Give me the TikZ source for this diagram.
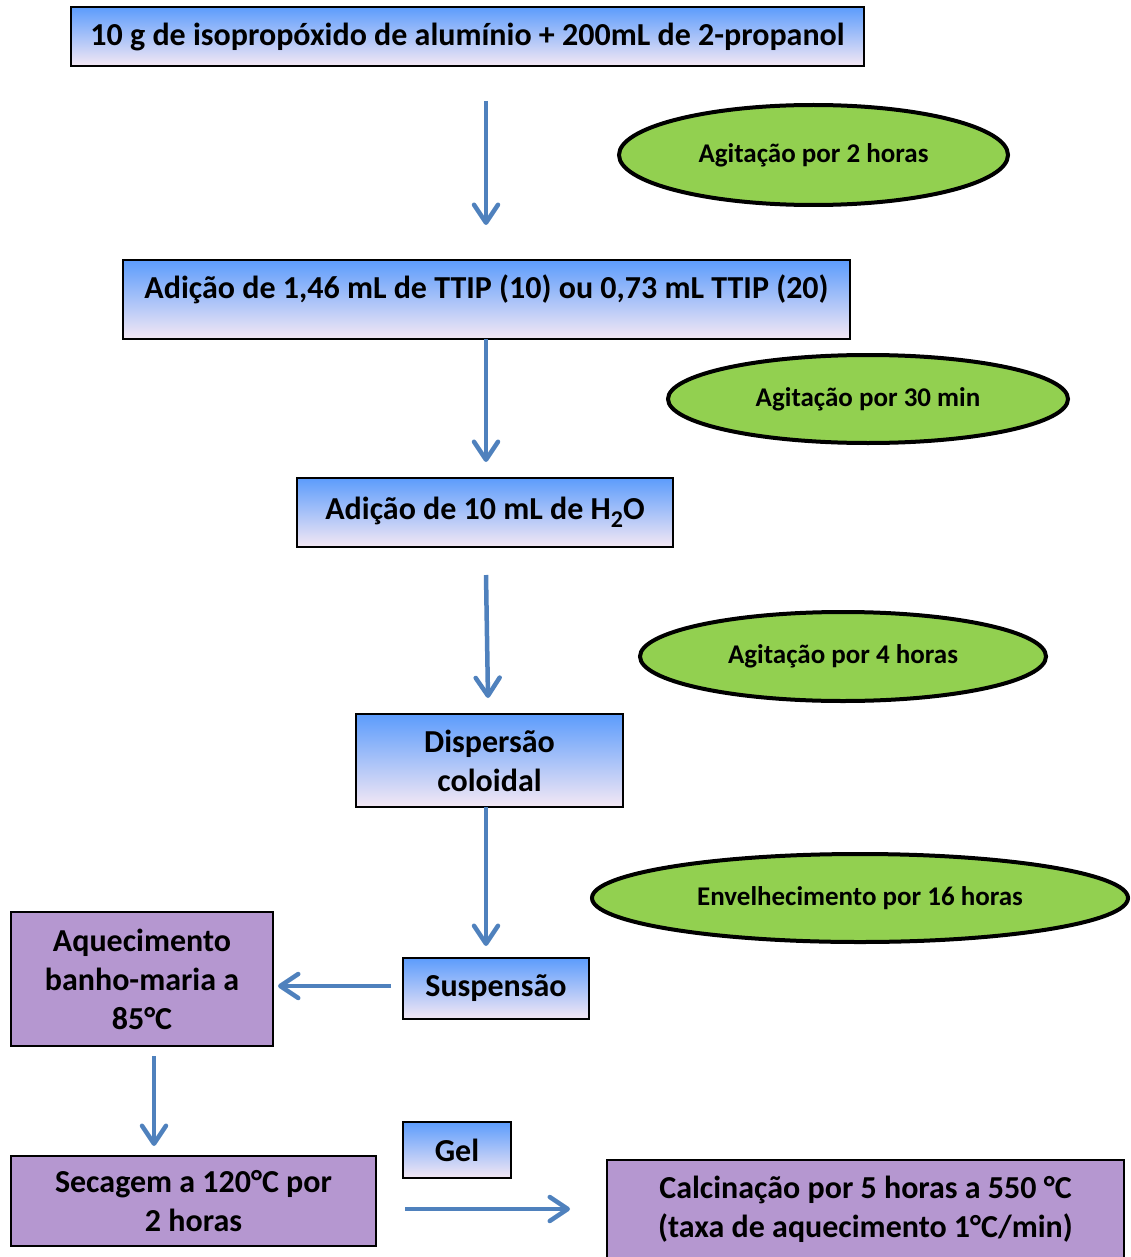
\documentclass[tikz,border=0pt]{standalone}
\usepackage{fontspec}
\setmainfont{Carlito}
\usetikzlibrary{shapes.geometric,arrows.meta}
\definecolor{flowblue}{RGB}{79,129,189}
\definecolor{boxtop}{RGB}{92,156,252}
\definecolor{boxbot}{RGB}{244,232,244}
\definecolor{leaf}{RGB}{146,208,80}
\definecolor{lilac}{RGB}{181,151,208}
\tikzset{
  stepbox/.style={draw=black, line width=1.3pt, rectangle, inner sep=0pt,
    top color=boxtop, bottom color=boxbot, align=center,
    font=\bfseries\fontsize{32}{39}\selectfont},
  heatbox/.style={draw=black, line width=1.3pt, rectangle, inner sep=0pt,
    fill=lilac, align=center, font=\bfseries\fontsize{32}{39}\selectfont},
  stirring/.style={draw=black, line width=4pt, ellipse, inner sep=0pt,
    fill=leaf, font=\bfseries\fontsize{27}{30}\selectfont},
  flow/.style={draw=flowblue, line width=4.5pt,
    -{Straight Barb[length=18pt,width=24pt,line width=4.5pt,round]}}
}
\begin{document}
\begin{tikzpicture}[x=1pt,y=-1pt]
\useasboundingbox (0,0) rectangle (1131,1257);

% process steps
\node[stepbox, minimum width=793pt, minimum height=59pt] (mix) at (467.5,36.5)
  {10 g de isopropóxido de alumínio + 200mL de 2-propanol};
\node[stepbox, minimum width=727pt, minimum height=79pt, text depth=26pt] (ttip) at (486.5,299.5)
  {Adição de 1,46 mL de TTIP (10) ou 0,73 mL TTIP (20)};
\node[stepbox, minimum width=376pt, minimum height=69pt] (water) at (485,512.5)
  {Adição de 10 mL de H\raisebox{-8pt}{\fontsize{24}{24}\selectfont 2}O};
\node[stepbox, minimum width=267pt, minimum height=93pt] (disp) at (489.5,760.5)
  {Dispersão\\coloidal};
\node[stepbox, minimum width=186pt, minimum height=61pt] (susp) at (496,988.5)
  {Suspensão};
\node[stepbox, minimum width=108pt, minimum height=56pt] (gel) at (457,1150)
  {Gel};

% thermal treatments
\node[heatbox, minimum width=262pt, minimum height=134pt] (bath) at (142,979)
  {Aquecimento\\banho-maria a\\85°C};
\node[heatbox, minimum width=365pt, minimum height=90pt] (dry) at (193.5,1201)
  {Secagem a 120°C por\\2 horas};
\node[heatbox, minimum width=517pt, minimum height=98pt] (calc) at (865.5,1209)
  {Calcinação por 5 horas a 550 °C\\(taxa de aquecimento 1°C/min)};

% stirring / ageing times
\node[stirring, minimum width=389pt, minimum height=100pt] (st1) at (813.5,155)
  {Agitação por 2 horas};
\node[stirring, minimum width=400pt, minimum height=88pt] (st2) at (868,399)
  {Agitação por 30 min};
\node[stirring, minimum width=406pt, minimum height=89pt] (st3) at (843,656.5)
  {Agitação por 4 horas};
\node[stirring, minimum width=536pt, minimum height=88pt] (st4) at (860,898)
  {Envelhecimento por 16 horas};

% arrow end points
\coordinate (a1s) at (486,101);  \coordinate (a1e) at (486,225);
\coordinate (a2s) at (486,339);  \coordinate (a2e) at (486,462);
\coordinate (a3s) at (486,575);  \coordinate (a3e) at (488,698);
\coordinate (a4s) at (486,807);  \coordinate (a4e) at (486,946);
\coordinate (a5s) at (391,986);  \coordinate (a5e) at (278,986);
\coordinate (a6s) at (154,1056); \coordinate (a6e) at (154,1146);
\coordinate (a7s) at (405,1209); \coordinate (a7e) at (570,1209);

\draw[flow] (a1s) -- (a1e);
\draw[flow] (a2s) -- (a2e);
\draw[flow] (a3s) -- (a3e);
\draw[flow] (a4s) -- (a4e);
\draw[flow] (a5s) -- (a5e);
\draw[flow] (a6s) -- (a6e);
\draw[flow] (a7s) -- (a7e);
\end{tikzpicture}
\end{document}
